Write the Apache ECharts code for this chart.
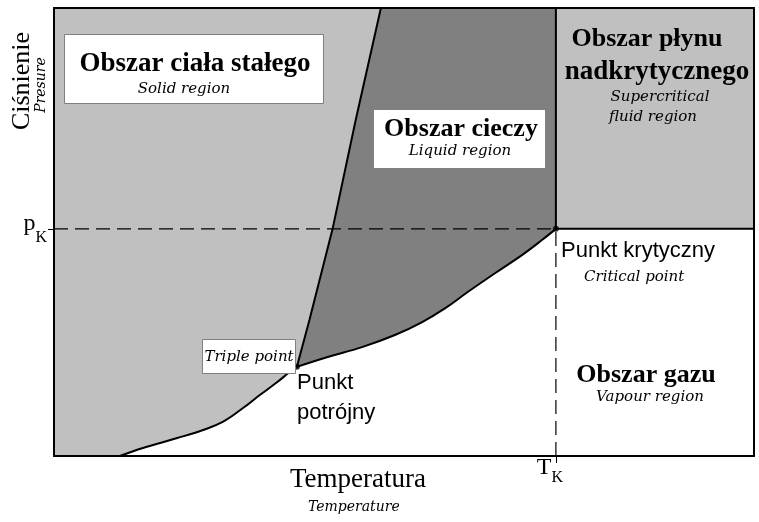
<!DOCTYPE html>
<html>
<head>
<meta charset="utf-8">
<script src="https://cdn.jsdelivr.net/npm/echarts@6/dist/echarts.min.js"></script>
<style>html,body{margin:0;padding:0;background:#fff;}#c{width:759px;height:522px;}</style>
</head>
<body>
<div id="c"></div>
<script>
// Phase diagram values (temperature 0-100, pressure 0-100, arbitrary units)
const sublimationT = [9.4, 12.7, 17.6, 21.3, 24.1, 27.0, 29.4, 31.9, 33.7, 34.7];
const sublimationP = [0, 1.8, 4.0, 5.8, 7.6, 10.7, 13.6, 16.5, 18.8, 19.9];
const meltingT = [34.7, 36.5, 39.8, 43.1, 46.7];
const meltingP = [19.9, 30.4, 50.7, 75.0, 100];
const vaporT = [34.7, 39.1, 44.0, 48.7, 52.6, 55.9, 59.1, 63.0, 66.9, 69.7, 71.7];
const vaporP = [19.9, 22.1, 24.3, 27.0, 29.9, 33.0, 36.6, 40.8, 44.9, 48.2, 50.7];
const triplePoint = [34.7, 19.9];
const criticalPoint = [71.7, 50.7];
const axisMin = 0, axisMax = 100;

const zip = (a, b) => a.map((v, i) => [v, b[i]]);
const subl = zip(sublimationT, sublimationP);
const melt = zip(meltingT, meltingP);
const vap = zip(vaporT, vaporP);
const Tk = criticalPoint[0], pK = criticalPoint[1];

const solidPoly = [[axisMin, axisMin]].concat(subl, melt.slice(1), [[axisMin, axisMax]]);
const liquidPoly = vap.concat([[Tk, axisMax]], melt.slice(1).reverse());
const superPoly = [[Tk, pK], [axisMax, pK], [axisMax, axisMax], [Tk, axisMax]];

function polySeries(points, color) {
  return {
    type: 'custom', z: 1, silent: true,
    data: points,
    renderItem: function (params, api) {
      if (params.dataIndex !== 0) return;
      const pts = points.map(p => api.coord(p));
      return { type: 'polygon', shape: { points: pts, smooth: 0 }, style: { fill: color } };
    }
  };
}
function lineSeries(data, opts) {
  return Object.assign({
    type: 'line', data: data, symbol: 'none', z: 3, silent: true,
    lineStyle: { color: '#000', width: 2 }
  }, opts || {});
}

const SERIF = '"Liberation Serif", "Times New Roman", serif';
const ITAL = '"DejaVu Serif", serif';
const SANS = '"Liberation Sans", Arial, sans-serif';

function txt(text, x, y, font, align, rot) {
  const o = { type: 'text', x: x, y: y, z: 20,
    style: { text: text, font: font, fill: '#000', align: align || 'center', verticalAlign: 'middle' } };
  if (rot) o.rotation = rot;
  return o;
}

const chart = echarts.init(document.getElementById('c'));
chart.setOption({
  animation: false,
  backgroundColor: '#fff',
  grid: { left: 54, right: 5, top: 8, bottom: 66, containLabel: false },
  xAxis: [{
    type: 'value', min: axisMin, max: axisMax, z: 5,
    axisLine: { show: true, onZero: false, lineStyle: { color: '#000', width: 2 } },
    splitLine: { show: false },
    axisTick: { show: true, customValues: [Tk], length: 7, inside: false, lineStyle: { color: '#000', width: 1 } },
    axisLabel: { show: true, customValues: [Tk], margin: 0, formatter: () => '{t|T}{k|K}',
      rich: { t: { fontFamily: SERIF, fontSize: 24, color: '#000', lineHeight: 30, verticalAlign: 'top' },
              k: { fontFamily: SERIF, fontSize: 16, color: '#000', lineHeight: 30, verticalAlign: 'bottom', padding: [0, 12, 0, 0] } } }
  }, {
    type: 'value', min: axisMin, max: axisMax, position: 'top', z: 5,
    axisLine: { show: true, onZero: false, lineStyle: { color: '#000', width: 2 } },
    axisTick: { show: false }, axisLabel: { show: false }, splitLine: { show: false }
  }],
  yAxis: [{
    type: 'value', min: axisMin, max: axisMax, z: 5,
    axisLine: { show: true, onZero: false, lineStyle: { color: '#000', width: 2 } },
    splitLine: { show: false },
    axisTick: { show: true, customValues: [pK], length: 6, lineStyle: { color: '#000', width: 1 } },
    axisLabel: { show: true, customValues: [pK], margin: 7, formatter: () => '{p|p}{k|K}',
      rich: { p: { fontFamily: SERIF, fontSize: 24, color: '#000', lineHeight: 34, verticalAlign: 'top' },
              k: { fontFamily: SERIF, fontSize: 16, color: '#000', lineHeight: 34, verticalAlign: 'bottom' } } }
  }, {
    type: 'value', min: axisMin, max: axisMax, position: 'right', z: 5,
    axisLine: { show: true, onZero: false, lineStyle: { color: '#000', width: 2 } },
    axisTick: { show: false }, axisLabel: { show: false }, splitLine: { show: false }
  }],
  series: [
    polySeries(solidPoly, '#c0c0c0'),
    polySeries(liquidPoly, '#808080'),
    polySeries(superPoly, '#c0c0c0'),
    lineSeries([[axisMin, pK], [Tk, pK]], { lineStyle: { color: '#000', width: 1.2, type: [14, 7] } }),
    lineSeries([[Tk, axisMin], [Tk, pK]], { lineStyle: { color: '#000', width: 1.2, type: [14, 7] } }),
    lineSeries([[Tk, pK], [Tk, axisMax]]),
    lineSeries([[Tk, pK], [axisMax, pK]]),
    lineSeries(subl, { smooth: 0.4 }),
    lineSeries(melt),
    lineSeries(vap, { smooth: 0.4 }),
    { type: 'scatter', z: 4, silent: true, data: [triplePoint, criticalPoint], symbolSize: 6, itemStyle: { color: '#000' } }
  ],
  graphic: [
    { type: 'rect', z: 10, shape: { x: 64.5, y: 34.5, width: 259, height: 69 }, style: { fill: '#fff', stroke: '#808080', lineWidth: 1 } },
    { type: 'rect', z: 10, shape: { x: 374, y: 110, width: 171, height: 58 }, style: { fill: '#fff' } },
    { type: 'rect', z: 10, shape: { x: 202.5, y: 339.5, width: 93, height: 34 }, style: { fill: '#fff', stroke: '#808080', lineWidth: 1 } },
    txt('Obszar ciała stałego', 195, 64, 'bold 27px ' + SERIF),
    txt('Solid region', 184, 89, 'italic 15px ' + ITAL),
    txt('Obszar cieczy', 461, 129, 'bold 26px ' + SERIF),
    txt('Liquid region', 460, 151, 'italic 15px ' + ITAL),
    txt('Obszar płynu', 647, 39, 'bold 26px ' + SERIF),
    txt('nadkrytycznego', 657, 72, 'bold 27px ' + SERIF),
    txt('Supercritical', 660, 97, 'italic 15px ' + ITAL),
    txt('fluid region', 653, 117, 'italic 15px ' + ITAL),
    txt('Punkt krytyczny', 561, 251, '22px ' + SANS, 'left'),
    txt('Critical point', 584, 277, 'italic 15px ' + ITAL, 'left'),
    txt('Obszar gazu', 646, 375, 'bold 26px ' + SERIF),
    txt('Vapour region', 650, 397, 'italic 15px ' + ITAL),
    txt('Triple point', 249, 357, 'italic 15px ' + ITAL),
    txt('Punkt', 297, 383, '22px ' + SANS, 'left'),
    txt('potrójny', 297, 413, '22px ' + SANS, 'left'),
    txt('Temperatura', 290, 480, '27px ' + SERIF, 'left'),
    txt('Temperature', 308, 507, 'italic 14px ' + ITAL, 'left'),
    txt('Ciśnienie', 22, 81, '26px ' + SERIF, 'center', Math.PI / 2),
    txt('Presure', 41, 85, 'italic 14px ' + ITAL, 'center', Math.PI / 2)
  ]
});
</script>
</body>
</html>
